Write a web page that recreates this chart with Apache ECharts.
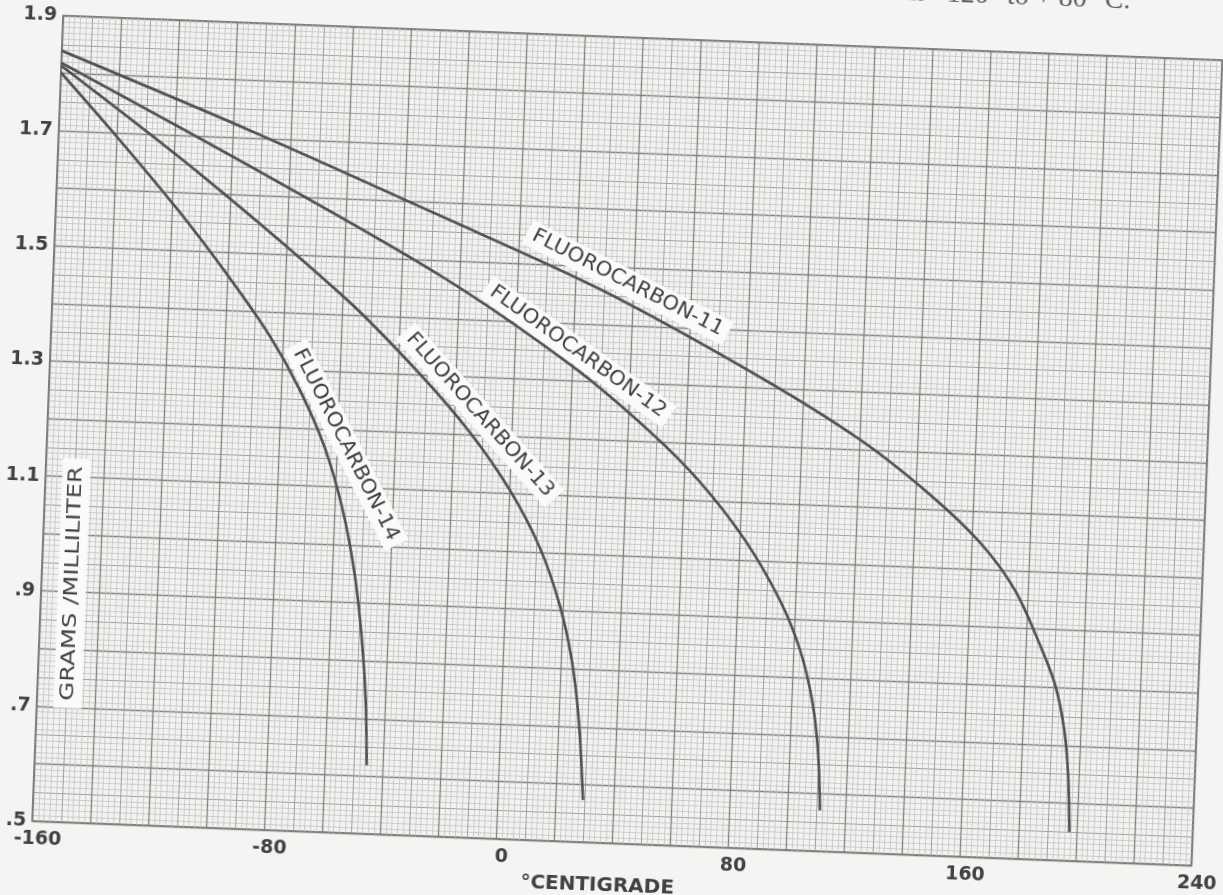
<!DOCTYPE html>
<html>
<head>
<meta charset="utf-8">
<script src="https://cdn.jsdelivr.net/npm/echarts@6/dist/echarts.min.js"></script>
<style>
  html, body { margin: 0; padding: 0; width: 1223px; height: 895px; overflow: hidden; background: #f4f4f2; }
  #chart { position: absolute; left: -50px; top: -50px; width: 1323px; height: 995px;
           transform: rotate(2.2deg); transform-origin: 50% 50%; }
</style>
</head>
<body>
<div id="chart"></div>
<script>
// Axis ticks and their printed labels
const temperatureTicks = [-160, -80, 0, 80, 160, 240];
const temperatureTickLabels = ['-160', '-80', '0', '80', '160', '240'];
const densityTicks = [0.5, 0.7, 0.9, 1.1, 1.3, 1.5, 1.7, 1.9];
const densityTickLabels = ['.5', '.7', '.9', '1.1', '1.3', '1.5', '1.7', '1.9'];

// Saturated liquid density, [°C, g/ml]
const fc11 = [[-160, 1.839], [-94, 1.713], [-28, 1.579], [29, 1.460], [84.9, 1.319], [120.2, 1.217],
              [145.1, 1.126], [163.0, 1.046], [175.6, 0.966], [185.0, 0.872], [190.7, 0.804],
              [194.4, 0.727], [196.4, 0.645], [197.5, 0.55]];
const fc12 = [[-160, 1.818], [-94, 1.652], [-27, 1.475], [19.9, 1.326], [47.7, 1.217], [65.6, 1.133],
              [81.9, 1.035], [94.7, 0.933], [102.3, 0.848], [107.1, 0.762], [109.8, 0.675], [111.3, 0.571]];
const fc13 = [[-160, 1.813], [-110.9, 1.635], [-58.5, 1.426], [-32.4, 1.302], [-14.4, 1.204],
              [0.2, 1.106], [11.3, 1.008], [18.9, 0.910], [23.8, 0.815], [27.0, 0.711], [29.5, 0.573]];
const fc14 = [[-160, 1.801], [-138.9, 1.688], [-117.3, 1.567], [-99.2, 1.456], [-84.6, 1.358],
              [-73.5, 1.266], [-64.1, 1.167], [-57.1, 1.060], [-52.1, 0.948], [-48.8, 0.836],
              [-46.7, 0.732], [-45.5, 0.619]];

const seriesNames = ['FLUOROCARBON-11', 'FLUOROCARBON-12', 'FLUOROCARBON-13', 'FLUOROCARBON-14'];
const seriesData = [fc11, fc12, fc13, fc14];

const INK = '#414141';
const LETTERING = '"DejaVu Sans", "Liberation Sans", sans-serif';

function tickLabel(ticks, labels) {
  return function (v) {
    for (let i = 0; i < ticks.length; i++) {
      if (Math.abs(v - ticks[i]) < 1e-6) return labels[i];
    }
    return '';
  };
}

const chart = echarts.init(document.getElementById('chart'), null, { renderer: 'canvas' });

const fineRule = { color: '#c3c3c1', width: 0.8 };
const midRule = { color: '#a0a09e', width: 1 };
const heavyRule = { color: '#80807e', width: 1.3 };

chart.setOption({
  backgroundColor: '#f4f4f2',
  animation: false,
  grid: { left: 97, right: 66, top: 87, bottom: 102, show: true,
          backgroundColor: '#f2f2f0', borderColor: '#5c5c5c', borderWidth: 1.6 },
  xAxis: [
    { type: 'value', min: -160, max: 240, interval: 10, position: 'bottom',
      axisLine: { show: false }, axisTick: { show: false }, axisLabel: { show: false },
      splitLine: { show: true, lineStyle: midRule },
      minorTick: { show: false, splitNumber: 5 },
      minorSplitLine: { show: true, lineStyle: fineRule } },
    { type: 'value', min: -160, max: 240, interval: 20, position: 'bottom',
      axisLine: { show: false }, axisTick: { show: false },
      axisLabel: { show: true, margin: 9, formatter: tickLabel(temperatureTicks, temperatureTickLabels),
                   fontFamily: LETTERING, fontWeight: 'bold', fontSize: 19, color: INK, padding: [0, 0, 0, 12] },
      splitLine: { show: true, lineStyle: heavyRule },
      name: '°CENTIGRADE', nameLocation: 'middle', nameGap: 31,
      nameTextStyle: { fontFamily: LETTERING, fontWeight: 'bold', fontSize: 20, color: INK, padding: [0, 26, 0, 0] } }
  ],
  yAxis: [
    { type: 'value', min: 0.5, max: 1.9, interval: 0.05, position: 'left',
      axisLine: { show: false, onZero: false }, axisTick: { show: false },
      axisLabel: { show: true, margin: 6, align: 'right', showMaxLabel: true, showMinLabel: true,
                   formatter: tickLabel(densityTicks, densityTickLabels),
                   fontFamily: LETTERING, fontWeight: 'bold', fontSize: 19, color: INK },
      splitLine: { show: true, lineStyle: midRule },
      minorTick: { show: false, splitNumber: 5 },
      minorSplitLine: { show: true, lineStyle: fineRule } },
    { type: 'value', min: 0.5, max: 1.9, interval: 0.1, position: 'left',
      axisLine: { show: false, onZero: false }, axisTick: { show: false }, axisLabel: { show: false },
      splitLine: { show: true, lineStyle: heavyRule } }
  ],
  series: seriesData.map((d, i) => ({
    name: seriesNames[i], type: 'line', xAxisIndex: 1, yAxisIndex: 1,
    data: d, showSymbol: false, smooth: 0.3, z: 5,
    lineStyle: { color: '#525252', width: 2.7 }
  }))
});

// Lettering placed on the sheet, anchored to data coordinates
function px(t, d) { return chart.convertToPixel({ xAxisIndex: 1, yAxisIndex: 1 }, [t, d]); }
const deg = Math.PI / 180;
const curveLabelSpots = [
  { t: 38.1, d: 1.474, angle: -24.8 },
  { t: 21.8, d: 1.351, angle: -33.4 },
  { t: -11.1, d: 1.235, angle: -46.2 },
  { t: -56.9, d: 1.174, angle: -61.0 }
];
const graphics = curveLabelSpots.map((s, i) => {
  const p = px(s.t, s.d);
  return { type: 'text', x: p[0], y: p[1], rotation: s.angle * deg, scaleX: 1.06, z: 20,
    style: { text: seriesNames[i], font: '20px ' + LETTERING, fill: INK, align: 'center', verticalAlign: 'middle',
             backgroundColor: '#fafaf9', padding: [3, 6] } };
});
const yTitle = px(-149.4, 0.915);
graphics.push({ type: 'text', x: yTitle[0], y: yTitle[1], rotation: 90 * deg, scaleX: 1.22, z: 20,
  style: { text: 'GRAMS /MILLILITER', font: '20px ' + LETTERING, fill: INK, align: 'center', verticalAlign: 'middle',
           backgroundColor: '#fafaf9', padding: [4, 6] } });
graphics.push({ type: 'text', x: 1163, y: 46, z: 20,
  style: { text: 'from \u2212120\u00b0 to + 80\u00b0 C.', font: '28px "Liberation Serif", serif', fill: '#5a5a5a',
           align: 'right', verticalAlign: 'bottom' } });
chart.setOption({ graphic: graphics });
</script>
</body>
</html>
